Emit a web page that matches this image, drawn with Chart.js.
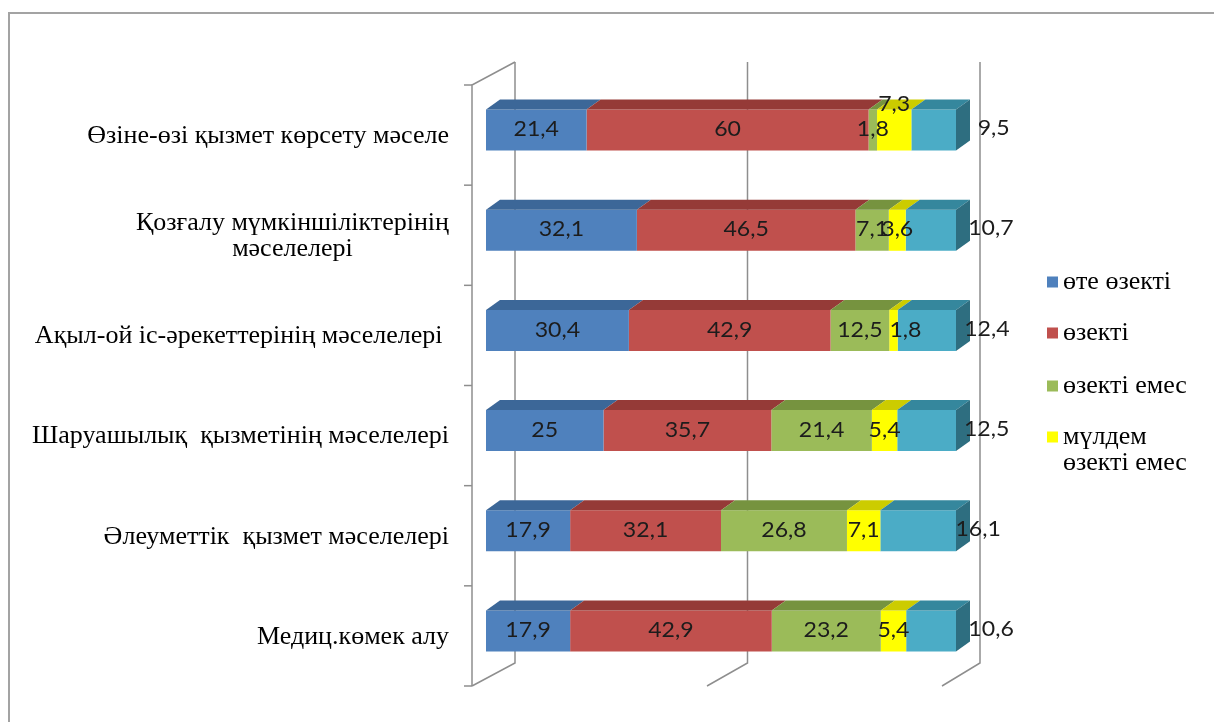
<!DOCTYPE html>
<html><head><meta charset="utf-8">
<script src="https://cdn.jsdelivr.net/npm/chart.js@4.4.0/dist/chart.umd.min.js"></script>
<style>
html,body{margin:0;padding:0;background:#fff;}
#wrap{position:relative;width:1214px;height:722px;overflow:hidden;background:#fff;}
#frame{position:absolute;left:8px;top:12px;width:1300px;height:800px;border-top:2px solid #a3a3a3;border-left:2px solid #a3a3a3;}
#c{position:absolute;left:0;top:0;}
</style></head><body>
<div id="wrap"><div id="frame"></div><canvas id="c" width="1214" height="722"></canvas></div>
<script>
// ---- data ----
const categories = [
  'Өзіне-өзі қызмет көрсету мәселе',
  ['Қозғалу мүмкіншіліктерінің', 'мәселелері'],
  'Ақыл-ой іс-әрекеттерінің мәселелері ',
  'Шаруашылық  қызметінің мәселелері',
  'Әлеуметтік  қызмет мәселелері',
  'Медиц.көмек алу'
];
const seriesNames = ['өте өзекті', 'өзекті', 'өзекті емес', 'мүлдем өзекті емес', ''];
const veryRelevant = [21.4, 32.1, 30.4, 25, 17.9, 17.9];
const relevant     = [60, 46.5, 42.9, 35.7, 32.1, 42.9];
const notRelevant  = [1.8, 7.1, 12.5, 21.4, 26.8, 23.2];
const notAtAll     = [7.3, 3.6, 1.8, 5.4, 7.1, 5.4];
const otherShare   = [9.5, 10.7, 12.4, 12.5, 16.1, 10.6];
const xTicks = [0, 50, 100];

// ---- styles ----
const frontColors = ['#4F81BD', '#C0504D', '#9BBB59', '#FFFF00', '#4BACC6'];
const topColors   = ['#3C6798', '#953A37', '#76933F', '#CCCC00', '#35879D'];
const sideColor = '#2E6E80';
const DX = 14, DY = 10;
// label nudges: key "row-series" -> [dx, dy]
const labelNudge = { '0-3': [0, -25], '2-3': [12, 0] };

const seriesValues = [veryRelevant, relevant, notRelevant, notAtAll, otherShare];

const fmt = v => String(v).replace('.', ',');

function stretchedText(ctx, s, x, y, sx) {
  ctx.save();
  ctx.translate(x, y);
  ctx.scale(sx, 1);
  ctx.fillText(s, 0, 0);
  ctx.restore();
}

const plugin3d = {
  id: 'plugin3d',
  beforeDatasetsDraw(chart) {
    const ctx = chart.ctx, xs = chart.scales.x, ys = chart.scales.y, ca = chart.chartArea;
    ctx.save();
    ctx.strokeStyle = '#8E8E8E';
    ctx.lineWidth = 1.5;
    const backTop = ca.top - 18, backBottom = ca.bottom - 18;
    const frontTop = ca.top + 5, frontBottom = ca.bottom + 5;
    xTicks.forEach(v => {
      const px = xs.getPixelForValue(v);
      const back = px + 29 - v * 0.05;
      const front = px - 14;
      ctx.beginPath();
      ctx.moveTo(back, backTop); ctx.lineTo(back, backBottom); ctx.lineTo(front, frontBottom);
      ctx.stroke();
    });
    const f0 = xs.getPixelForValue(0) - 14;
    const b0 = xs.getPixelForValue(0) + 29;
    ctx.beginPath();
    ctx.moveTo(b0, backTop); ctx.lineTo(f0, frontTop); ctx.lineTo(f0, frontBottom);
    ctx.stroke();
    const band = ys.getPixelForValue(1) - ys.getPixelForValue(0);
    for (let k = 0; k <= categories.length; k++) {
      const y = ys.getPixelForValue(0) - band / 2 + 5 + k * band;
      ctx.beginPath(); ctx.moveTo(f0 - 8, y); ctx.lineTo(f0, y); ctx.stroke();
    }
    ctx.restore();
  },
  afterDatasetsDraw(chart) {
    const ctx = chart.ctx, ys = chart.scales.y;
    ctx.save();
    const nDs = chart.data.datasets.length;
    for (let d = 0; d < nDs; d++) {
      const meta = chart.getDatasetMeta(d);
      meta.data.forEach((el) => {
        const p = el.getProps(['x', 'y', 'base', 'height'], true);
        const l = Math.min(p.x, p.base), r = Math.max(p.x, p.base);
        const t = p.y - p.height / 2, b = p.y + p.height / 2;
        ctx.fillStyle = topColors[d];
        ctx.beginPath();
        ctx.moveTo(l, t); ctx.lineTo(l + DX, t - DY); ctx.lineTo(r + DX, t - DY); ctx.lineTo(r, t);
        ctx.closePath(); ctx.fill();
        if (d === nDs - 1) {
          ctx.fillStyle = sideColor;
          ctx.beginPath();
          ctx.moveTo(r, t); ctx.lineTo(r + DX, t - DY); ctx.lineTo(r + DX, b - DY); ctx.lineTo(r, b);
          ctx.closePath(); ctx.fill();
        }
      });
    }
    // data labels
    ctx.font = '22px Lato, "Open Sans", sans-serif';
    ctx.fillStyle = '#1c1c1c';
    ctx.textAlign = 'center';
    ctx.textBaseline = 'middle';
    for (let d = 0; d < nDs; d++) {
      const meta = chart.getDatasetMeta(d);
      meta.data.forEach((el, i) => {
        const p = el.getProps(['x', 'y', 'base', 'height'], true);
        const v = chart.data.datasets[d].data[i];
        let cx = (p.x + p.base) / 2, cy = p.y - 1;
        if (d === nDs - 1) { cx += 60; cy = p.y - 2; }
        const n = labelNudge[i + '-' + d];
        if (n) { cx += n[0]; cy += n[1]; }
        stretchedText(ctx, fmt(v), cx, cy, 1.05);
      });
    }
    // category labels
    ctx.font = '26px "Liberation Serif", "Times New Roman", serif';
    ctx.fillStyle = '#000';
    const rightEdge = chart.scales.x.getPixelForValue(0) - 37;
    chart.data.labels.forEach((lab, i) => {
      const lines = Array.isArray(lab) ? lab : [lab];
      const w = Math.max(...lines.map(s => ctx.measureText(s).width));
      const cxb = rightEdge - w / 2;
      const lh = 26;
      const yc = ys.getPixelForValue(i) + 6;
      lines.forEach((s, k) => {
        ctx.fillText(s, cxb, yc + (k - (lines.length - 1) / 2) * lh);
      });
    });
    // legend
    ctx.font = '26px "Liberation Serif", "Times New Roman", serif';
    ctx.textAlign = 'left';
    const legendY = [282, 333, 386, 437];
    for (let d = 0; d < 4; d++) {
      const name = chart.data.datasets[d].label;
      const words = name.split(' ');
      const lines = [];
      let cur = '';
      words.forEach(w => {
        const test = cur ? cur + ' ' + w : w;
        if (ctx.measureText(test).width > 140 && cur) { lines.push(cur); cur = w; } else cur = test;
      });
      lines.push(cur);
      ctx.fillStyle = frontColors[d];
      ctx.fillRect(1047, legendY[d] - 5.5, 11, 11);
      ctx.fillStyle = '#000';
      lines.forEach((s, k) => ctx.fillText(s, 1063, legendY[d] + k * 26));
    }
    ctx.restore();
  }
};

new Chart(document.getElementById('c'), {
  type: 'bar',
  data: {
    labels: categories,
    datasets: seriesValues.map((vals, k) => ({
      label: seriesNames[k],
      data: vals,
      backgroundColor: frontColors[k],
      borderWidth: 0,
      barPercentage: 0.41,
      categoryPercentage: 1
    }))
  },
  options: {
    indexAxis: 'y',
    responsive: false,
    animation: false,
    devicePixelRatio: 1,
    layout: { padding: { left: 486, right: 258, top: 80, bottom: 41 } },
    plugins: { legend: { display: false }, tooltip: { enabled: false } },
    scales: {
      x: { type: 'linear', min: 0, max: 100, stacked: true, display: false },
      y: { type: 'category', stacked: true, display: false }
    }
  },
  plugins: [plugin3d]
});
</script>
</body></html>
